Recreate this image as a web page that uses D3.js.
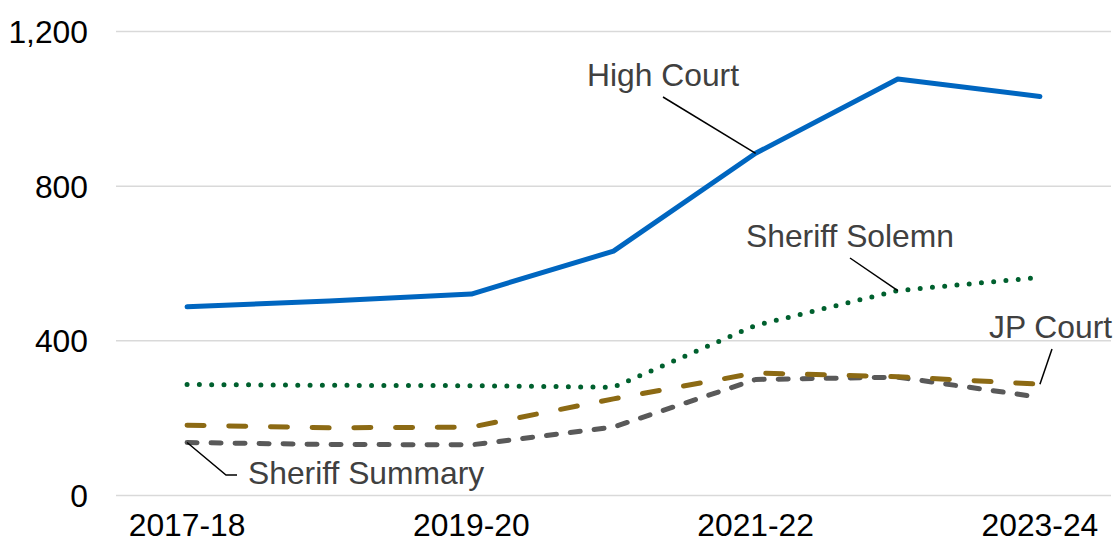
<html>
<head>
<style>
  body { margin: 0; background: #fff; }
  svg text { font-family: "Liberation Sans", Arial, sans-serif; }
</style>
</head>
<body>
<svg id="chart" width="1116" height="544"></svg>
<script src="https://d3js.org/d3.v7.min.js"></script>
<script>
// data
var years = ["2017-18", "2018-19", "2019-20", "2020-21", "2021-22", "2022-23", "2023-24"];
var tickYears = ["2017-18", "2019-20", "2021-22", "2023-24"];
var yTicks = [0, 400, 800, 1200];

var highCourt      = [488, 503, 521, 632, 885, 1077, 1032];
var sheriffSolemn  = [287, 285, 284, 280, 440, 530, 564];
var jpCourt        = [182, 175, 177, 250, 317, 307, 288];
var sheriffSummary = [137, 132, 131, 177, 300, 306, 254];

var series = [
  { name: "High Court",      values: highCourt,      color: "#0066c0", dash: null,       width: 5 },
  { name: "Sheriff Solemn",  values: sheriffSolemn,  color: "#00602e", dash: "0,12.3",   width: 5 },
  { name: "JP Court",        values: jpCourt,        color: "#8c6a14", dash: "17,24.7",  width: 5 },
  { name: "Sheriff Summary", values: sheriffSummary, color: "#595959", dash: "10,14",    width: 5 }
];

var fontSize = 31.8;
var svg = d3.select("#chart");

var x = d3.scaleBand().domain(years).range([116, 1111]);
var y = d3.scaleLinear().domain([0, 1200]).range([495.5, 31.5]);
function cx(yr) { return x(yr) + x.bandwidth() / 2; }

// gridlines
svg.append("g")
  .selectAll("line")
  .data(yTicks)
  .enter()
  .append("line")
  .attr("x1", 116)
  .attr("x2", 1111)
  .attr("y1", function(d) { return y(d); })
  .attr("y2", function(d) { return y(d); })
  .attr("stroke", "#d9d9d9")
  .attr("stroke-width", 1.5);

// y tick labels
svg.append("g")
  .selectAll("text")
  .data(yTicks)
  .enter()
  .append("text")
  .attr("x", 88)
  .attr("y", function(d) { return y(d); })
  .attr("dy", "0.36em")
  .attr("text-anchor", "end")
  .attr("font-size", fontSize)
  .attr("fill", "#000")
  .text(function(d) { return d3.format(",")(d); });

// x tick labels
svg.append("g")
  .selectAll("text")
  .data(tickYears)
  .enter()
  .append("text")
  .attr("x", function(d) { return cx(d); })
  .attr("y", 536)
  .attr("text-anchor", "middle")
  .attr("font-size", fontSize)
  .attr("fill", "#000")
  .text(function(d) { return d; });

var line = d3.line()
  .x(function(d, i) { return cx(years[i]); })
  .y(function(d) { return y(d); });

// draw bottom-most first so High Court sits on top
series.slice().reverse().forEach(function(s) {
  svg.append("path")
    .attr("d", line(s.values))
    .attr("fill", "none")
    .attr("stroke", s.color)
    .attr("stroke-width", s.width)
    .attr("stroke-linecap", "round")
    .attr("stroke-linejoin", "round")
    .attr("stroke-dasharray", s.dash);
});

// labels with leader lines
function pt(s, i) { return [cx(years[i]), y(s.values[i])]; }
var labels = [
  { text: "High Court",      x: 587, y: 86,  leader: [[663, 97]],              to: pt(series[0], 4) },
  { text: "Sheriff Solemn",  x: 746, y: 247, leader: [[850, 258]],             to: pt(series[1], 5) },
  { text: "JP Court",        x: 989, y: 338, leader: [[1052, 349]],            to: pt(series[2], 6) },
  { text: "Sheriff Summary", x: 248, y: 484, leader: [[237, 475], [226, 475]], to: pt(series[3], 0) }
];

labels.forEach(function(l) {
  var pts = l.leader.concat([l.to]);
  svg.append("path")
    .attr("d", d3.line()(pts))
    .attr("fill", "none")
    .attr("stroke", "#000")
    .attr("stroke-width", 1.5);
  svg.append("text")
    .attr("x", l.x)
    .attr("y", l.y)
    .attr("font-size", fontSize)
    .attr("fill", "#404040")
    .text(l.text);
});
</script>
</body>
</html>
